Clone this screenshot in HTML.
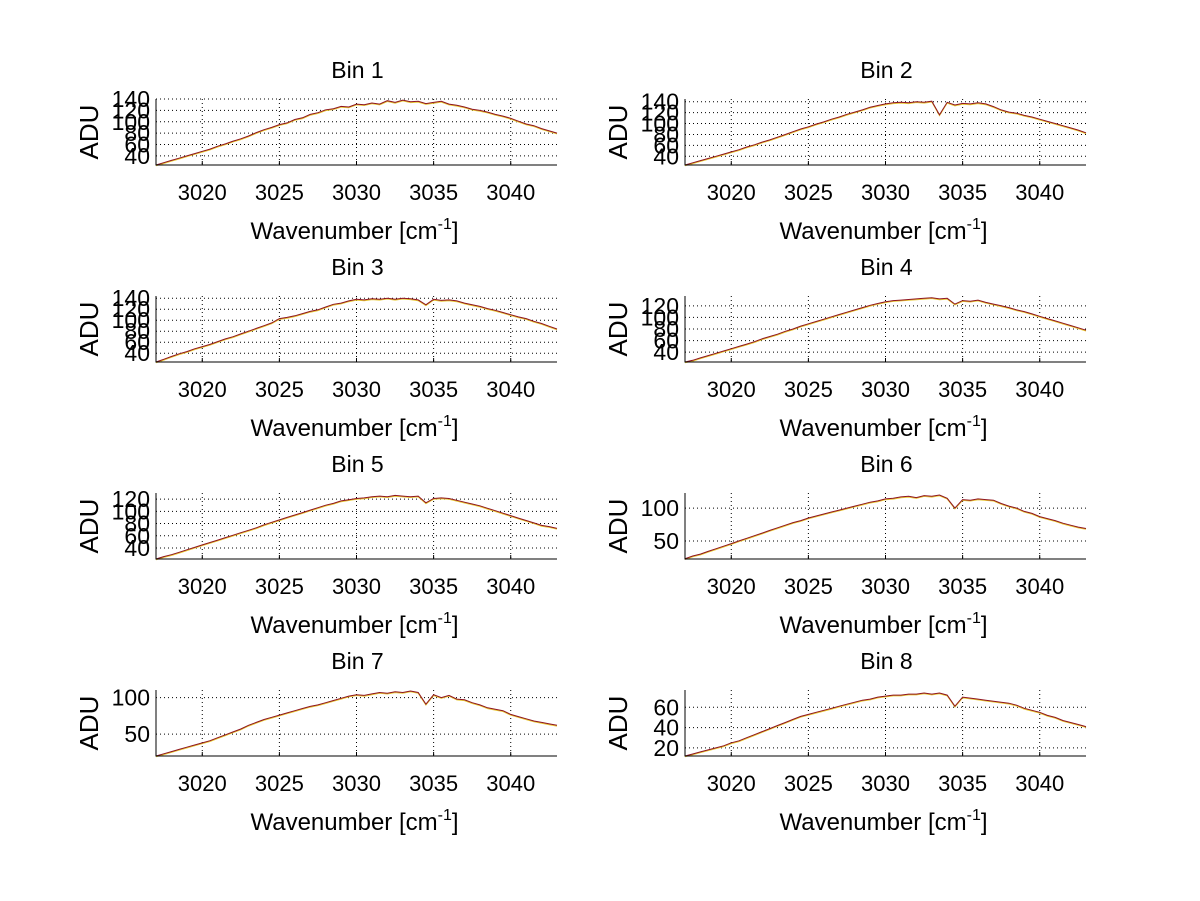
<!DOCTYPE html>
<html><head><meta charset="utf-8"><style>
html,body{margin:0;padding:0;background:#fff;}
svg{display:block;font-family:"Liberation Sans",Arial,sans-serif;}
</style></head><body>
<svg id="fig" width="1200" height="901" viewBox="0 0 1200 901" xmlns="http://www.w3.org/2000/svg">
<rect width="1200" height="901" fill="#fff"/>
</svg>
<script>
const wavenumbers = [3017,3017.5,3018,3018.5,3019,3019.5,3020,3020.5,3021,3021.5,3022,3022.5,3023,3023.5,3024,3024.5,3025,3025.5,3026,3026.5,3027,3027.5,3028,3028.5,3029,3029.5,3030,3030.5,3031,3031.5,3032,3032.5,3033,3033.5,3034,3034.5,3035,3035.5,3036,3036.5,3037,3037.5,3038,3038.5,3039,3039.5,3040,3040.5,3041,3041.5,3042,3042.5,3043];
const bin1 = [24,28,32,36,40,44,48,52,57,61,66,70,75,81,86,90,95,98,104,107,113,116,121,123,127,126,131,130,133,131,137,134,138,135,136,132,134,136,131,129,126,122,120,117,113,110,106,101,96,93,88,84,80];
const bin2 = [24,28,32,36,40,44,48,52,57,61,66,70,75,80,85,90,94,99,103,108,112,117,121,125,130,133,136,138,139,138,140,139,141,116,139,134,137,136,138,136,131,125,121,119,115,112,108,104,100,96,92,88,83];
const bin3 = [24,29,34,39,43,48,52,56,61,66,70,75,80,85,90,95,103,105,108,112,116,119,124,129,131,135,138,137,139,138,140,138,140,139,137,128,138,136,137,135,131,128,125,121,118,114,110,106,103,98,94,89,84];
const bin4 = [23,26,30,34,38,42,46,50,54,58,63,67,71,76,80,85,89,93,97,101,105,109,113,117,121,124,127,129,130,131,132,133,134,132,133,123,129,128,130,126,123,120,117,113,110,106,102,98,94,90,86,82,78];
const bin5 = [22,26,29,33,37,41,45,49,53,57,61,65,69,73,78,82,86,90,94,98,102,106,110,113,117,119,121,122,124,125,124,126,125,124,125,114,121,122,121,118,115,112,109,105,101,97,93,89,85,81,77,75,72];
const bin6 = [23,27,30,34,38,42,46,50,54,58,62,66,70,74,78,81,85,88,91,94,97,100,103,106,109,111,114,115,117,118,116,119,118,120,115,100,113,112,114,113,112,107,103,100,95,92,87,84,81,77,74,71,69];
const bin7 = [20,23,26,29,32,35,38,41,45,49,53,57,62,66,70,73,76,79,82,85,88,90,93,96,99,102,104,103,105,107,106,108,107,109,107,91,104,100,103,98,97,93,90,86,84,82,77,74,71,68,66,64,62];
const bin8 = [12,14,16,18,20,22,25,27,30,33,36,39,42,45,48,51,53,55,57,59,61,63,65,67,68,70,71,72,72,73,73,74,73,74,72,61,70,69,68,67,66,65,64,62,59,57,55,52,50,47,45,43,41];
const seriesList = [bin1,bin2,bin3,bin4,bin5,bin6,bin7,bin8];
const binTitles = ["Bin 1","Bin 2","Bin 3","Bin 4","Bin 5","Bin 6","Bin 7","Bin 8"];
const yMins = [24,24,24,23,22,22.5,20,12];
const yMaxs = [140,145,144,137,130,123,110.4,77];
const yTicks1 = [40,60,80,100,120,140];
const yTicks4 = [40,60,80,100,120];
const yTicks6 = [50,100];
const yTicks8 = [20,40,60];
const yTickSets = [yTicks1,yTicks1,yTicks1,yTicks4,yTicks4,yTicks6,yTicks6,yTicks8];
const xTicks = [3020,3025,3030,3035,3040];
const xMin = 3017, xMax = 3043;

const NS = "http://www.w3.org/2000/svg";
const svg = document.getElementById('fig');
function mk(tag, attrs, parent){
  const e = document.createElementNS(NS, tag);
  for (const k in attrs) e.setAttribute(k, attrs[k]);
  parent.appendChild(e);
  return e;
}
const colLeft = [156, 685];
const rowTop = [99, 296, 493, 690];
const W = 401, H = 66;

for (let i = 0; i < 8; i++) {
  const L = colLeft[i % 2], T = rowTop[Math.floor(i / 2)], B = T + H, R = L + W;
  const g = mk('g', {}, svg);
  
  
  const xs = v => L + (v - xMin) / (xMax - xMin) * W;
  const ys = v => B - (v - yMins[i]) / (yMaxs[i] - yMins[i]) * H;

  for (const t of xTicks) {
    const gl = mk('line', {x1: xs(t), x2: xs(t), y1: T, y2: B, stroke: '#000', 'stroke-width': 1, 'stroke-dasharray': '1,3'}, g);
    
    
    const tk = mk('line', {x1: xs(t), x2: xs(t), y1: B, y2: B - 4, stroke: '#000'}, g);
    
    
    const tl = mk('text', {x: xs(t), y: B + 35, 'font-size': 22, 'text-anchor': 'middle', fill: '#000'}, g);
    tl.textContent = t;
    
    
  }
  for (const t of yTickSets[i]) {
    const gl = mk('line', {x1: L, x2: R, y1: ys(t), y2: ys(t), stroke: '#000', 'stroke-width': 1, 'stroke-dasharray': '1,3'}, g);
    
    
    const tl = mk('text', {x: L - 6, y: ys(t) + 8, 'font-size': 23, 'text-anchor': 'end', fill: '#000'}, g);
    tl.textContent = t;
    
    
  }
  const data = seriesList[i];
  let d = '';
  for (let k = 0; k < data.length; k++) d += (k ? 'L' : 'M') + xs(wavenumbers[k]).toFixed(1) + ',' + ys(data[k]).toFixed(1);
  const under = mk('path', {d: d, fill: 'none', stroke: '#e8c830', 'stroke-width': 1, transform: 'translate(0,0.8)'}, g);
  
  
  const ln = mk('path', {d: d, fill: 'none', stroke: '#8e1420', 'stroke-width': 1}, g);
  
  
  const ax = mk('path', {d: `M${L},${T}V${B}H${R}`, fill: 'none', stroke: '#000', 'stroke-width': 1}, g);
  
  
  const ti = mk('text', {x: L + W / 2 + 1, y: T - 21, 'font-size': 23, 'text-anchor': 'middle', fill: '#000'}, g);
  ti.textContent = binTitles[i];
  
  
  const xl = mk('text', {x: L + W / 2 - 2, y: B + 74, 'font-size': 24, 'text-anchor': 'middle', fill: '#000'}, g);
  
  
  const t1 = mk('tspan', {}, xl); t1.textContent = 'Wavenumber [cm';
  const t2 = mk('tspan', {dy: -10, 'font-size': 16}, xl); t2.textContent = '-1';
  const t3 = mk('tspan', {dy: 10}, xl); t3.textContent = ']';
  const cy = T + H / 2, cx = L - 58;
  const yl = mk('text', {x: cx, y: cy, 'font-size': 26, 'text-anchor': 'middle', fill: '#000', transform: `rotate(-90 ${cx} ${cy})`}, g);
  yl.textContent = 'ADU';
  
  
}
</script>
</body></html>
